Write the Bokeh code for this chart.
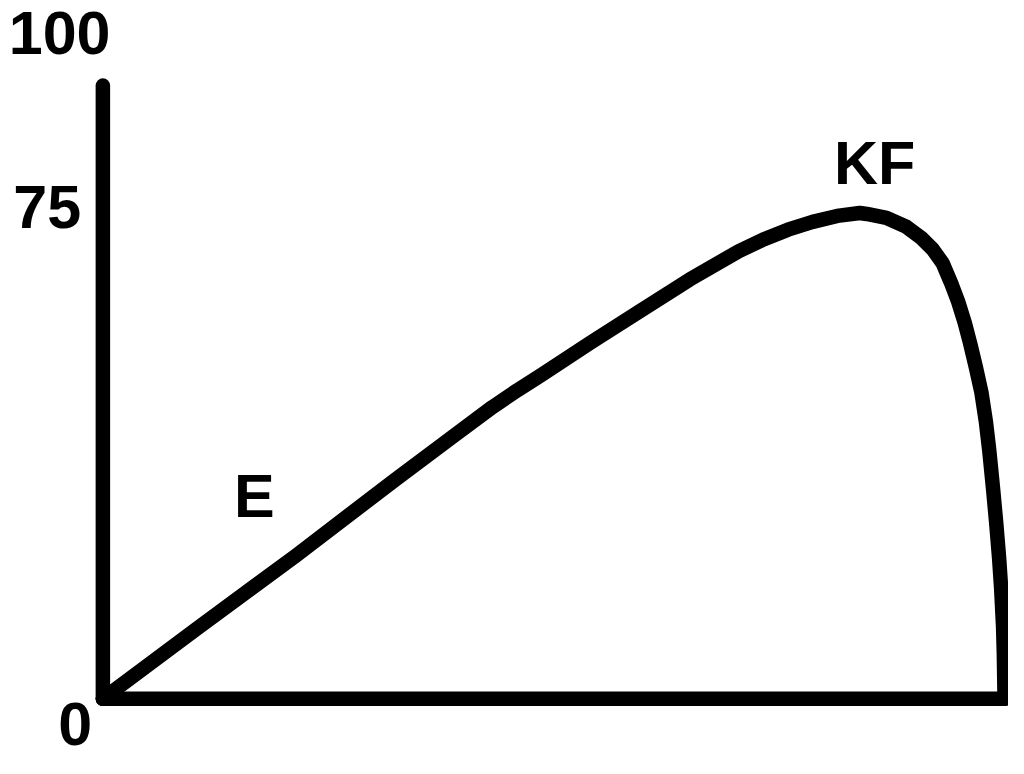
from bokeh.plotting import figure
from bokeh.models import Range1d, ColumnDataSource
from bokeh.core.properties import value
from bokeh.embed import file_html
from bokeh.resources import INLINE

# ---- data ----
curve_x = [0.00, 10.48, 21.40, 32.31, 38.86, 43.23, 45.96, 48.69, 54.15,
           59.61, 65.07, 70.52, 73.25, 75.98, 78.71, 81.44, 83.95, 84.72,
           86.90, 89.08, 90.72, 92.03, 93.12, 94.05, 94.87, 95.58, 96.18,
           96.83, 97.43, 97.93, 98.31, 98.74, 99.07, 99.40, 99.62, 99.84,
           99.92, 100.00]
curve_y = [0.00, 10.84, 21.99, 33.58, 40.36, 44.88, 47.44, 49.85, 54.82,
           59.64, 64.46, 68.83, 70.63, 72.14, 73.34, 74.25, 74.70, 74.55,
           73.95, 72.59, 70.93, 69.13, 67.02, 64.01, 61.01, 57.83, 54.67,
           50.90, 47.14, 42.62, 38.10, 32.08, 27.11, 21.54, 17.02, 10.99,
           6.93, 0.00]

tick_values = [100, 75, 0]
tick_labels = ["100", "75", "0"]

point_labels = ["E", "KF"]
point_label_x = [16.8, 85.6]
point_label_y = [31.2, 82.4]

# ---- layout ----
X_MAX = 100
Y_AXIS_TOP = 94.3
tick_label_x = [-4.80, -6.17, -3.06]
tick_label_dy = [2.4, 0.6, -3.9]

FONT = value("Liberation Sans")

p = figure(width=1008, height=758, output_backend="svg", toolbar_location=None,
           x_range=Range1d(-11.354, 100.437), y_range=Range1d(-9.187, 107.38),
           x_axis_location=None, y_axis_location=None, min_border=0)
p.grid.visible = False
p.outline_line_color = None
p.background_fill_color = "white"
p.border_fill_color = "white"

# axes
p.segment(x0=[0, 0], y0=[0, 0], x1=[0, X_MAX], y1=[Y_AXIS_TOP, 0],
          line_color="black", line_width=14.5, line_cap="round")

# curve
p.line(curve_x, curve_y, line_color="black", line_width=14.5,
       line_join="round", line_cap="round")

# tick labels
tick_src = ColumnDataSource(dict(
    x=tick_label_x,
    y=[v + d for v, d in zip(tick_values, tick_label_dy)],
    t=tick_labels))
p.text(x="x", y="y", text="t", source=tick_src, text_font=FONT,
       text_font_style="bold", text_font_size="61px", text_color="black",
       text_align="center", text_baseline="alphabetic")

# point labels
pt_src = ColumnDataSource(dict(x=point_label_x, y=point_label_y, t=point_labels))
p.text(x="x", y="y", text="t", source=pt_src, text_font=FONT,
       text_font_style="bold", text_font_size="61px", text_color="black",
       text_align="center", text_baseline="alphabetic")

open("out.html", "w").write(file_html(p, INLINE))
